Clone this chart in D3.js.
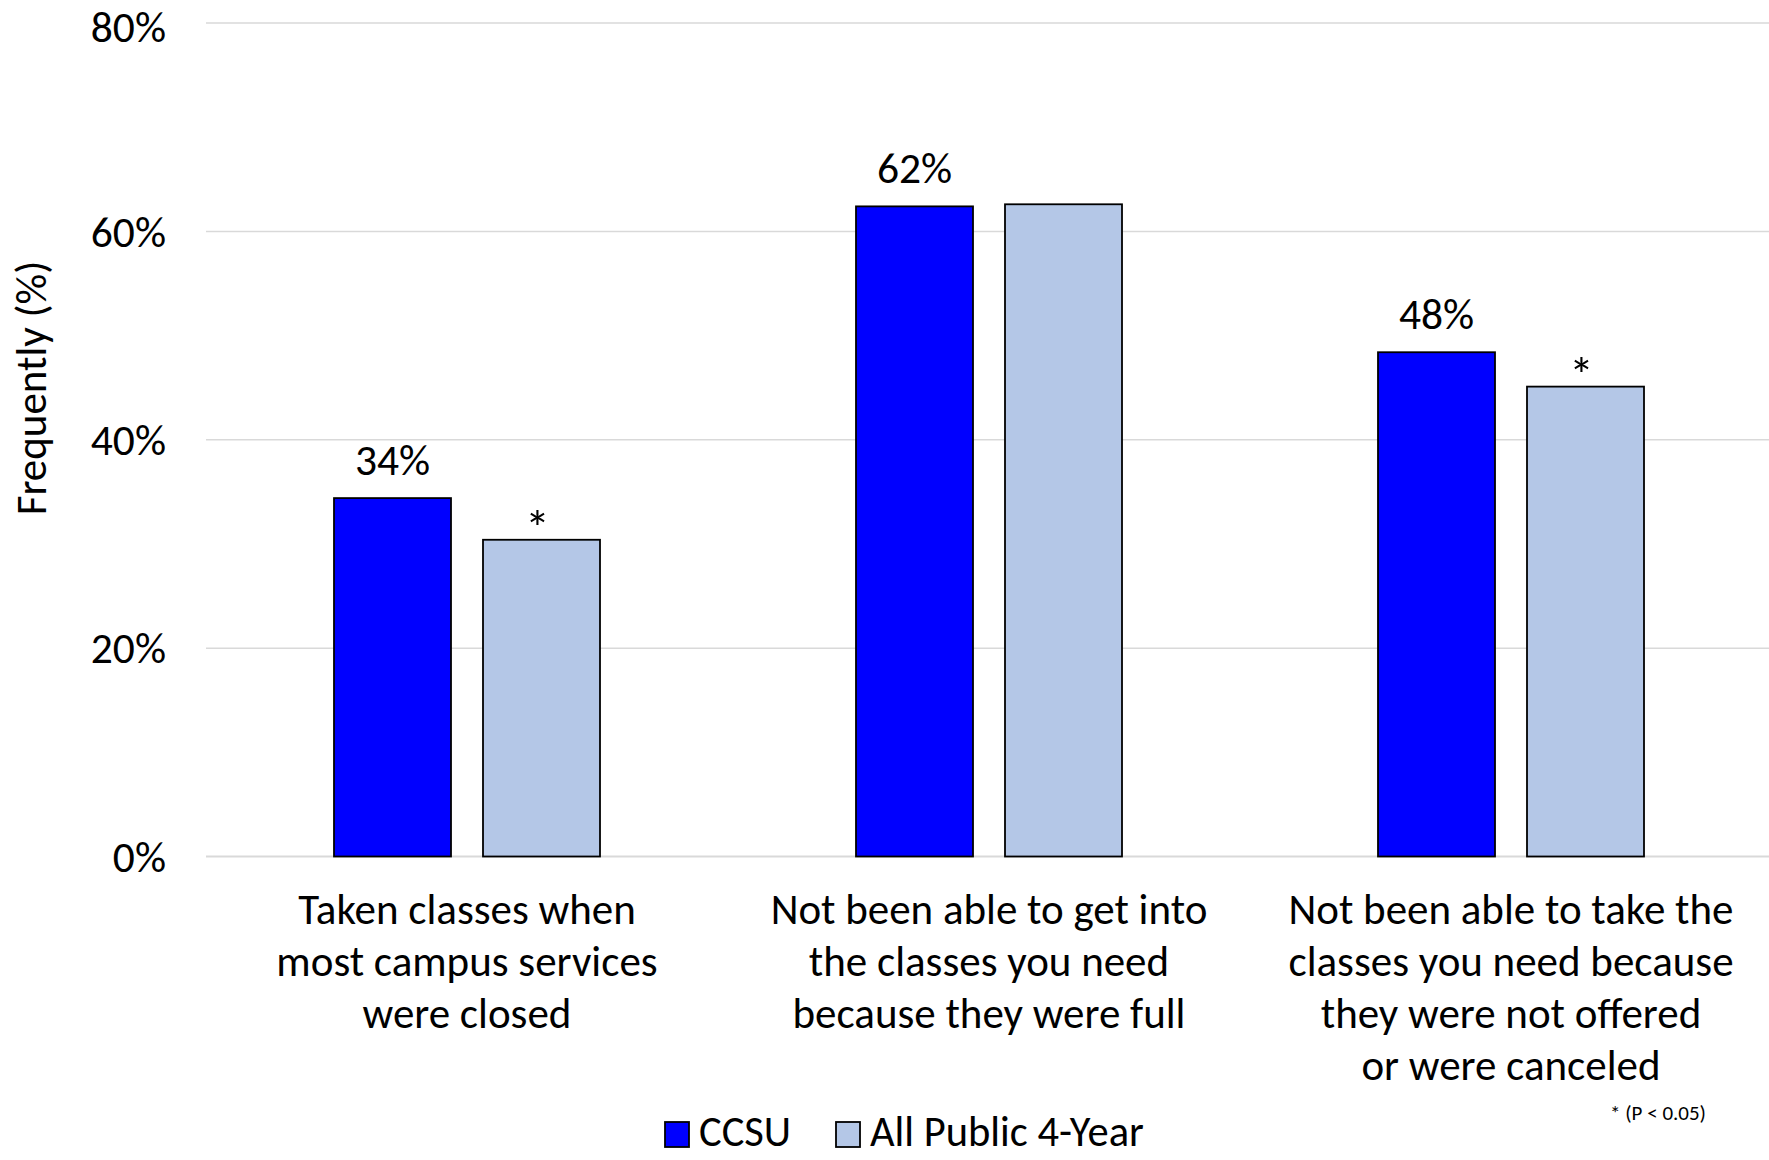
<!DOCTYPE html>
<html>
<head>
<meta charset="utf-8">
<script src="https://cdn.jsdelivr.net/npm/d3@7"></script>
<style>
  html, body { margin: 0; padding: 0; background: #fff; }
  svg { display: block; font-family: Calibri, Carlito, Lato, sans-serif; }
</style>
</head>
<body>
<svg id="chart" width="1769" height="1160"></svg>
<script>
// ---- data ----
const categories = [
  "Taken classes when most campus services were closed",
  "Not been able to get into the classes you need because they were full",
  "Not been able to take the classes you need because they were not offered or were canceled"
];
const categoryLines = [
  ["Taken classes when", "most campus services", "were closed"],
  ["Not been able to get into", "the classes you need", "because they were full"],
  ["Not been able to take the", "classes you need because", "they were not offered", "or were canceled"]
];
const seriesNames = ["CCSU", "All Public 4-Year"];
const ccsuValues = [34.4, 62.4, 48.4];
const publicValues = [30.4, 62.6, 45.1];
const ccsuLabels = ["34%", "62%", "48%"];
const publicLabels = ["*", "", "*"];
const tickValues = [0, 20, 40, 60, 80];
const yTitle = "Frequently (%)";
const footnote = "* (P < 0.05)";
const colors = ["#0000FF", "#B4C7E7"];

// ---- layout ----
const svg = d3.select("#chart");
const plotLeft = 206, plotRight = 1772, plotTop = 23, plotBottom = 856.5;

const x0 = d3.scaleBand().domain(categories).range([plotLeft, plotRight]).paddingInner(0).paddingOuter(0);
const groupW = 266;
const x1 = d3.scaleBand().domain(seriesNames)
  .range([x0.bandwidth() / 2 - groupW / 2, x0.bandwidth() / 2 + groupW / 2])
  .paddingInner(32 / 149).paddingOuter(0);
const y = d3.scaleLinear().domain([0, 80]).range([plotBottom, plotTop]);

// gridlines
svg.append("g").selectAll("line").data(tickValues).join("line")
  .attr("x1", plotLeft).attr("x2", 1769)
  .attr("y1", d => y(d)).attr("y2", d => y(d))
  .attr("stroke", "#d9d9d9").attr("stroke-width", d => d === 0 ? 2 : 1.5);

// y axis tick labels
const yAxis = d3.axisLeft(y).tickValues(tickValues).tickFormat(d => d + "%").tickSize(0).tickPadding(0);
const yg = svg.append("g").attr("transform", "translate(166,0)").call(yAxis);
yg.select(".domain").remove();
yg.selectAll("text").attr("font-size", 43.5).attr("fill", "#000")
  .attr("font-family", "Calibri, Carlito, Lato, sans-serif")
  .attr("dy", d => d === 80 ? "0.42em" : "0.34em").attr("text-anchor", "end");

// y title
svg.append("text").attr("transform", "translate(46,388) rotate(-90)")
  .attr("text-anchor", "middle").attr("font-size", 43).attr("fill", "#000").text(yTitle);

// bars
const rows = categories.map((c, i) => ({ cat: c, vals: [ccsuValues[i], publicValues[i]], labels: [ccsuLabels[i], publicLabels[i]] }));
const groups = svg.append("g").selectAll("g").data(rows).join("g")
  .attr("transform", d => `translate(${x0(d.cat)},0)`);

groups.selectAll("rect").data(d => d.vals.map((v, j) => ({ s: seriesNames[j], v, j }))).join("rect")
  .attr("x", d => x1(d.s)).attr("width", x1.bandwidth())
  .attr("y", d => y(d.v)).attr("height", d => y(0) - y(d.v))
  .attr("fill", d => colors[d.j]).attr("stroke", "#000").attr("stroke-width", 1.8);

// data labels
groups.selectAll("text.lbl").data(d => d.labels.map((t, j) => ({ s: seriesNames[j], v: d.vals[j], t, j }))).join("text")
  .attr("class", "lbl")
  .attr("x", d => x1(d.s) + x1.bandwidth() / 2 + (d.t === "*" ? -4 : 0))
  .attr("y", d => d.t === "*" ? y(d.v) + 5 : y(d.v) - 23)
  .attr("text-anchor", "middle").attr("font-size", d => d.t === "*" ? 50 : 43.5).attr("fill", "#000")
  .text(d => d.t);

// category labels
const xAxisG = svg.append("g");
categories.forEach((c, i) => {
  const t = xAxisG.append("text").attr("text-anchor", "middle").attr("font-size", 43).attr("fill", "#000");
  categoryLines[i].forEach((line, k) => {
    t.append("tspan").attr("x", x0(c) + x0.bandwidth() / 2).attr("y", 924 + k * 52).text(line);
  });
});

// legend
const legend = svg.append("g");
const legendX = [665, 836];
seriesNames.forEach((s, j) => {
  legend.append("rect").attr("x", legendX[j]).attr("y", 1122).attr("width", 24).attr("height", 25)
    .attr("fill", colors[j]).attr("stroke", "#000").attr("stroke-width", 1.8);
  legend.append("text").attr("x", legendX[j] + 34).attr("y", 1146)
    .attr("font-size", 42.5).attr("fill", "#000").text(s);
});

// footnote
svg.append("text").attr("x", 1610).attr("y", 1120).attr("font-size", 21).attr("fill", "#000").text(footnote);
</script>
</body>
</html>
